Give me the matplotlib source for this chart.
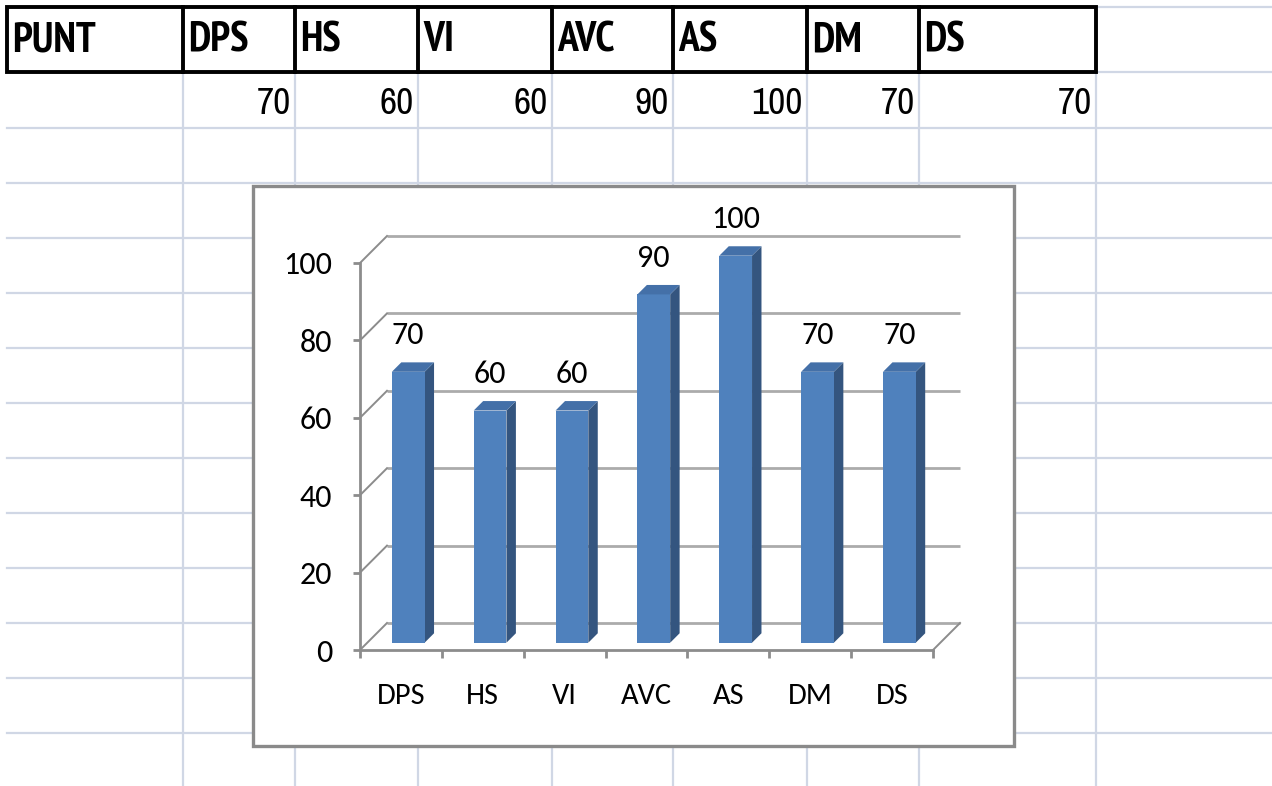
import matplotlib
matplotlib.use("Agg")
import matplotlib.pyplot as plt
from matplotlib import font_manager
from matplotlib.patches import Rectangle, Polygon


def pick_font(names, min_weight=400):
    # first family in names that has a face at least this heavy
    faces = {}
    for f in font_manager.fontManager.ttflist:
        w = f.weight if isinstance(f.weight, int) else 400
        faces[f.name] = max(faces.get(f.name, 0), w)
    for name in names:
        if faces.get(name, 0) >= min_weight:
            return name
    return 'DejaVu Sans'


HEADER_FONT = pick_font(['Archivo Narrow', 'PT Sans Narrow', 'Roboto Condensed',
                         'Liberation Sans'], min_weight=700)
SHEET_FONT = pick_font(['Archivo Narrow', 'PT Sans Narrow', 'Liberation Sans'])
CHART_FONT = pick_font(['Carlito', 'Open Sans', 'DejaVu Sans'])

# sheet contents
first_col = 'PUNT'
categories = ['DPS', 'HS', 'VI', 'AVC', 'AS', 'DM', 'DS']
scores = [70, 60, 60, 90, 100, 70, 70]
y_ticks = [0, 20, 40, 60, 80, 100]

# sheet geometry in pixels
W, H = 1272, 786
col_edges = [7, 183, 295, 418, 552, 673, 807, 919, 1096]
row_lines = [128 + 55 * i for i in range(12)]
header_top, header_bottom = 7, 72
grid_color = '#D0D7E5'

fig = plt.figure(figsize=(W / 100, H / 100), dpi=100)
sheet = fig.add_axes([0, 0, 1, 1])
sheet.set_xlim(0, W)
sheet.set_ylim(H, 0)
sheet.axis('off')

# light cell grid
for x in col_edges[1:]:
    sheet.plot([x, x], [header_bottom, H], color=grid_color, lw=1.6, zorder=1)
for y in row_lines:
    sheet.plot([col_edges[0], W], [y, y], color=grid_color, lw=1.6, zorder=1)
for y in (header_top, header_bottom):
    sheet.plot([col_edges[-1], W], [y, y], color=grid_color, lw=1.6, zorder=1)

# bold header row
sheet.add_patch(Rectangle((col_edges[0], header_top), col_edges[-1] - col_edges[0],
                          header_bottom - header_top, fill=False,
                          edgecolor='black', lw=2.8, zorder=3))
for x in col_edges[1:-1]:
    sheet.plot([x, x], [header_top, header_bottom], color='black', lw=2.8, zorder=3)
for label, x in zip([first_col] + categories, col_edges[:-1]):
    sheet.text(x + 5, (header_top + header_bottom) / 2 + 1, label, fontsize=30,
               fontweight='bold', family=HEADER_FONT, ha='left', va='center', zorder=4)

# value row, right aligned in each cell
for val, x in zip(scores, col_edges[2:]):
    sheet.text(x - 4, 103, str(val), fontsize=27, family=SHEET_FONT,
               ha='right', va='center', zorder=4)

# chart frame
box_l, box_t, box_r, box_b = 253, 186, 1014, 746
sheet.add_patch(Rectangle((box_l, box_t), box_r - box_l, box_b - box_t,
                          facecolor='white', edgecolor='#8A8A8A', lw=2.4, zorder=5))

# chart axes: x in category units, y in score units
AX0_PX, CAT_PX = 360, 81.86     # left end of the front category axis, px per category
Y0_PX, UNIT_PX = 650, 3.87      # front zero line, px per score unit
x_lo = (box_l - AX0_PX) / CAT_PX - 0.5
x_hi = (box_r - AX0_PX) / CAT_PX - 0.5
y_lo = (Y0_PX - box_b) / UNIT_PX
y_hi = (Y0_PX - box_t) / UNIT_PX

ax = fig.add_axes([box_l / W, 1 - box_b / H, (box_r - box_l) / W, (box_b - box_t) / H])
ax.set_xlim(x_lo, x_hi)
ax.set_ylim(y_lo, y_hi)
ax.patch.set_alpha(0)
ax.set_zorder(6)

# depth of the floor, in data units
DX = 27 / CAT_PX
DY = 27 / UNIT_PX
n = len(categories)
left_end, right_end = -0.5, n - 0.5
axis_gray = '#8C8C8C'
wall_gray = '#ABABAB'

# back wall gridlines and the diagonals tying them to the value axis
ax.hlines([v + DY for v in y_ticks], left_end + DX, right_end + DX,
          colors=wall_gray, lw=2.0, zorder=1)
for v in y_ticks:
    ax.plot([left_end, left_end + DX], [v, v + DY], color=axis_gray, lw=1.4, zorder=1)
ax.plot([right_end, right_end + DX], [0, DY], color=axis_gray, lw=1.4, zorder=1)

# 3D-looking columns
f0, f1 = 0.27, 0.62
bw = 0.40
front_col, side_col, top_col = '#4F81BD', '#34557F', '#4470A8'
base = f0 * DY
ddx, ddy = (f1 - f0) * DX, (f1 - f0) * DY
xs = [i + f0 * DX for i in range(n)]
ax.bar(xs, scores, width=bw, bottom=base, color=front_col, zorder=3)
for xc, v in zip(xs, scores):
    xl, xr = xc - bw / 2, xc + bw / 2
    top = base + v
    ax.add_patch(Polygon([(xr, base), (xr, top), (xr + ddx, top + ddy), (xr + ddx, base + ddy)],
                         closed=True, facecolor=side_col, edgecolor='none', zorder=2))
    ax.add_patch(Polygon([(xl, top), (xr, top), (xr + ddx, top + ddy), (xl + ddx, top + ddy)],
                         closed=True, facecolor=top_col, edgecolor='none', zorder=3))
    ax.text(xc, top + ddy + 7, str(v), fontsize=23, family=CHART_FONT,
            ha='center', va='center', zorder=4)

# value axis
for side in ('top', 'right'):
    ax.spines[side].set_visible(False)
ax.spines['left'].set_position(('data', left_end))
ax.spines['left'].set_bounds(0, 100)
ax.spines['bottom'].set_position(('data', 0))
ax.spines['bottom'].set_bounds(left_end, right_end)
for side in ('left', 'bottom'):
    ax.spines[side].set_color(axis_gray)
    ax.spines[side].set_linewidth(2.0)
ax.set_yticks(y_ticks)
ax.set_yticklabels([str(v) for v in y_ticks], fontsize=23, family=CHART_FONT)
ax.tick_params(axis='y', direction='out', length=5, width=2, color=axis_gray, pad=15)

# category axis: boundary ticks, labels centred in between
ax.set_xticks([i - 0.5 for i in range(n + 1)])
ax.set_xticklabels([''] * (n + 1))
ax.set_xticks(range(n), minor=True)
ax.set_xticklabels(categories, minor=True, fontsize=22, family=CHART_FONT)
ax.tick_params(axis='x', which='major', direction='out', length=6, width=2, color=axis_gray)
ax.tick_params(axis='x', which='minor', length=0, pad=24)

fig.savefig('out.png', dpi=100)
